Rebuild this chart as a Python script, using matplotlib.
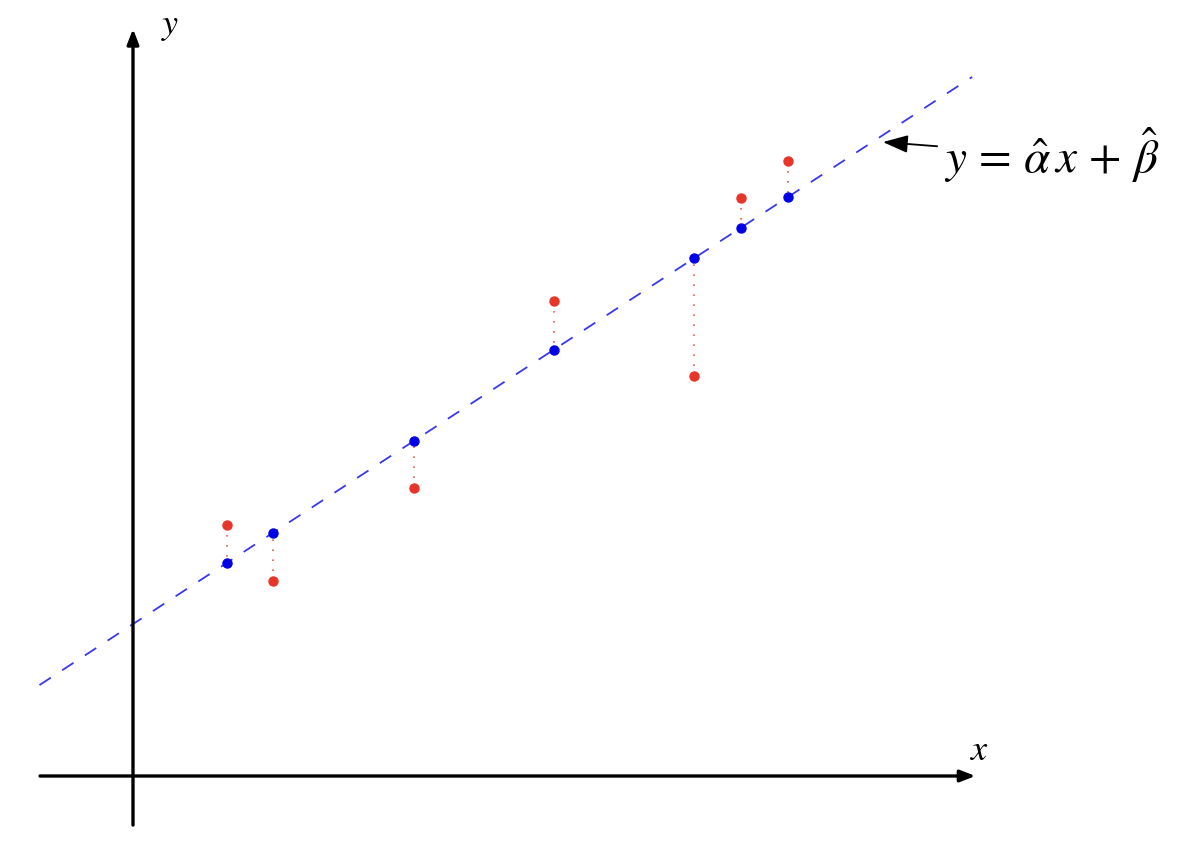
import matplotlib
matplotlib.use('Agg')
import matplotlib.pyplot as plt

plt.rcParams['mathtext.fontset'] = 'stix'

# observed points
x_obs = [2, 3, 6, 9, 12, 13, 14]
y_obs = [5.37, 4.17, 6.16, 10.16, 8.56, 12.36, 13.16]

# fitted line y = alpha*x + beta
alpha_hat = 0.652
beta_hat = 3.25
line_x = [-2, 17.95]

y_fit = [alpha_hat * v + beta_hat for v in x_obs]
line_y = [alpha_hat * v + beta_hat for v in line_x]

fig = plt.figure(figsize=(11.88, 8.58), dpi=100)
ax = fig.add_axes([0, 0, 1, 1])
ax.set_xlim(-133 / 46.75, (1188 - 133) / 46.75)
ax.set_ylim(-(858 - 776) / 46.75, 776 / 46.75)
ax.axis('off')

# axes with arrows
arr = dict(arrowstyle='-|>,head_length=0.9,head_width=0.35', color='black', lw=2.4, shrinkA=0, shrinkB=0)
ax.annotate('', xy=(18.02, 0), xytext=(-1.99, 0), arrowprops=arr)
ax.annotate('', xy=(0, 15.98), xytext=(0, -1.05), arrowprops=arr)
ax.text(0.6, 16.05, '$y$', fontsize=26, ha='left', va='center')
ax.text(17.9, 0.55, '$x$', fontsize=26, ha='left', va='center')

# regression line
ax.plot(line_x, line_y, color='#3838ee', lw=1.3, dashes=(7.5, 7.5))

# residuals
for xo, yo, yf in zip(x_obs, y_obs, y_fit):
    ax.plot([xo, xo], [yo, yf], color='#e8352a', lw=1.2, ls=(0, (1, 5)), alpha=0.8)

ax.plot(x_obs, y_obs, 'o', color='#e8352a', ms=6.5, zorder=5)
ax.plot(x_obs, y_fit, 'o', color='#0000e6', ms=6.5, zorder=5)

ax.annotate(r'$y\,=\,\hat{\alpha}\,x\,+\,\hat{\beta}$', xy=(16.04, 13.56), xytext=(17.35, 13.28),
            fontsize=34, va='center', ha='left',
            arrowprops=dict(arrowstyle='-|>,head_length=0.45,head_width=0.16', color='black',
                            lw=1.3, shrinkA=3, shrinkB=0))

fig.savefig('out.png', dpi=100)
